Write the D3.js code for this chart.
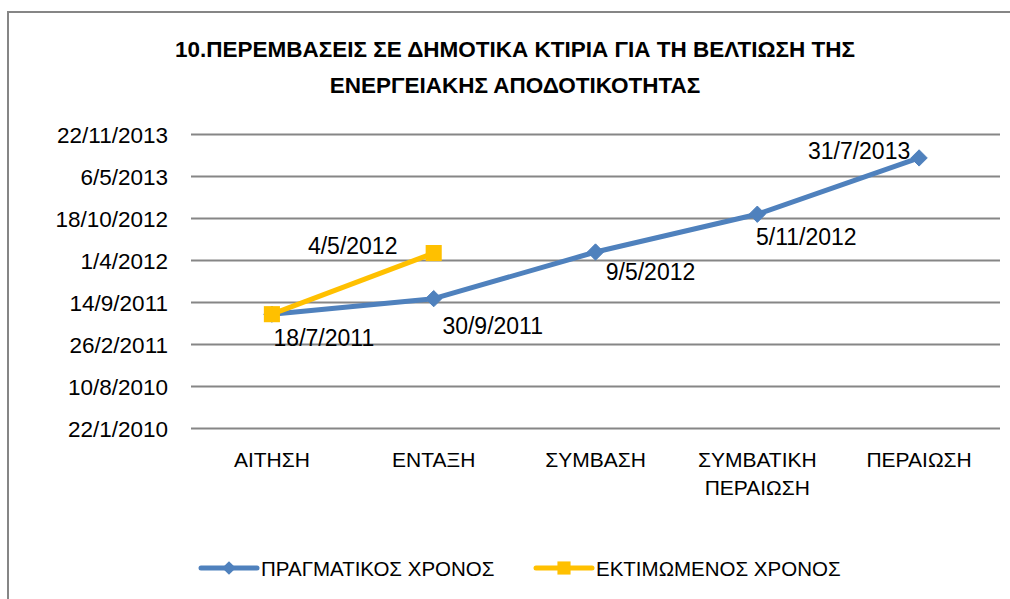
<!DOCTYPE html>
<html lang="el">
<head>
<meta charset="UTF-8">
<title>Παρεμβάσεις</title>
<script src="https://cdn.jsdelivr.net/npm/d3@7"></script>
<style>
  body { margin: 0; background: #fff; }
  text { font-family: "Liberation Sans", Arial, sans-serif; fill: #000; }
</style>
</head>
<body>
<div id="chart"></div>
<script>
// δεδομένα
const categories = ["ΑΙΤΗΣΗ", "ΕΝΤΑΞΗ", "ΣΥΜΒΑΣΗ", "ΣΥΜΒΑΤΙΚΗ ΠΕΡΑΙΩΣΗ", "ΠΕΡΑΙΩΣΗ"];
const actualDates = ["18/7/2011", "30/9/2011", "9/5/2012", "5/11/2012", "31/7/2013"];
const estimatedDates = ["18/7/2011", "4/5/2012"];
const yTicks = ["22/1/2010", "10/8/2010", "26/2/2011", "14/9/2011", "1/4/2012", "18/10/2012", "6/5/2013", "22/11/2013"];
const seriesNames = ["ΠΡΑΓΜΑΤΙΚΟΣ ΧΡΟΝΟΣ", "ΕΚΤΙΜΩΜΕΝΟΣ ΧΡΟΝΟΣ"];

const parse = d3.timeParse("%d/%m/%Y");
const fmt = d => `${d.getDate()}/${d.getMonth() + 1}/${d.getFullYear()}`;

const width = 1010, height = 599;
const blue = "#4F81BD", yellow = "#FFC000";

const svg = d3.select("#chart").append("svg").attr("width", width).attr("height", height);

// πλαίσιο
svg.append("path")
  .attr("d", "M8,700 V12 H1012")
  .attr("fill", "none").attr("stroke", "#868686").attr("stroke-width", 2);

// τίτλος
const title = svg.append("text").attr("text-anchor", "middle")
  .attr("font-weight", "bold").attr("font-size", 22.5);
title.append("tspan").attr("x", 515).attr("y", 57).text("10.ΠΕΡΕΜΒΑΣΕΙΣ ΣΕ ΔΗΜΟΤΙΚΑ ΚΤΙΡΙΑ ΓΙΑ ΤΗ ΒΕΛΤΙΩΣΗ ΤΗΣ");
title.append("tspan").attr("x", 515).attr("y", 93).text("ΕΝΕΡΓΕΙΑΚΗΣ ΑΠΟΔΟΤΙΚΟΤΗΤΑΣ");

const x = d3.scaleBand().domain(categories).range([191, 1000]);
const tickDates = yTicks.map(parse);
const y = d3.scaleTime().domain(d3.extent(tickDates)).range([428, 134]);

// άξονας y με γραμμές πλέγματος
const yAxis = svg.append("g").attr("transform", "translate(191,0)")
  .call(d3.axisLeft(y).tickValues(tickDates).tickFormat(fmt).tickSize(-(1000 - 191)).tickPadding(23));
yAxis.select(".domain").remove();
yAxis.selectAll(".tick line").attr("stroke", "#868686").attr("stroke-width", 2);
yAxis.selectAll(".tick text").attr("font-size", 22.5).attr("font-family", null).attr("dy", "0.36em");

// άξονας x
const xAxis = svg.append("g");
xAxis.selectAll("text").data(categories).join("text")
  .attr("text-anchor", "middle").attr("font-size", 21)
  .attr("x", d => x(d) + x.bandwidth() / 2)
  .attr("y", 467)
  .each(function (d) {
    const words = d.split(" ");
    d3.select(this).selectAll("tspan").data(words).join("tspan")
      .attr("x", x(d) + x.bandwidth() / 2)
      .attr("dy", (w, i) => i === 0 ? 0 : 28)
      .text(w => w);
  });

const line = d3.line().x((d, i) => x(categories[i]) + x.bandwidth() / 2).y(d => y(parse(d)));

const diamond = d3.symbol().type(d3.symbolDiamond2).size(170);
const square = d3.symbol().type(d3.symbolSquare2).size(330);

// πραγματικός χρόνος
svg.append("path").datum(actualDates).attr("d", line)
  .attr("fill", "none").attr("stroke", blue).attr("stroke-width", 5).attr("stroke-linejoin", "round");
svg.selectAll(".dia").data(actualDates).join("path").attr("class", "dia")
  .attr("transform", (d, i) => `translate(${x(categories[i]) + x.bandwidth() / 2},${y(parse(d))})`)
  .attr("d", diamond).attr("fill", blue).attr("stroke", blue).attr("stroke-width", 1);

// εκτιμώμενος χρόνος
svg.append("path").datum(estimatedDates).attr("d", line)
  .attr("fill", "none").attr("stroke", yellow).attr("stroke-width", 5);
svg.selectAll(".sq").data(estimatedDates).join("path").attr("class", "sq")
  .attr("transform", (d, i) => `translate(${x(categories[i]) + x.bandwidth() / 2},${y(parse(d))})`)
  .attr("d", square).attr("fill", yellow);

// ετικέτες τιμών (μετατόπιση από το σημείο)
const actualOffsets = [[52, 32], [59, 35], [55, 28], [49, 31], [-60, 1]];
const estimatedOffsets = [[0, 0], [-81, 1]];
svg.selectAll(".lblA").data(actualDates).join("text").attr("class", "lblA")
  .attr("text-anchor", "middle").attr("font-size", 23)
  .attr("x", (d, i) => x(categories[i]) + x.bandwidth() / 2 + actualOffsets[i][0])
  .attr("y", (d, i) => y(parse(d)) + actualOffsets[i][1])
  .text(d => d);
svg.selectAll(".lblE").data(estimatedDates.slice(1)).join("text").attr("class", "lblE")
  .attr("text-anchor", "middle").attr("font-size", 23)
  .attr("x", (d, i) => x(categories[i + 1]) + x.bandwidth() / 2 + estimatedOffsets[i + 1][0])
  .attr("y", (d, i) => y(parse(d)) + estimatedOffsets[i + 1][1])
  .text(d => d);

// υπόμνημα
const legend = svg.append("g");
const legendX = [201, 536];
const legendMarks = [d3.symbol().type(d3.symbolDiamond2).size(120), d3.symbol().type(d3.symbolSquare2).size(220)];
[blue, yellow].forEach((c, i) => {
  const g = legend.append("g").attr("transform", `translate(${legendX[i]},568)`);
  g.append("line").attr("x1", 0).attr("x2", 56).attr("stroke", c).attr("stroke-width", 5).attr("stroke-linecap", "round");
  g.append("path").attr("transform", "translate(28,0)").attr("d", legendMarks[i]).attr("fill", c);
  g.append("text").attr("x", 60).attr("y", 8).attr("font-size", 20.5).text(seriesNames[i]);
});
</script>
</body>
</html>
